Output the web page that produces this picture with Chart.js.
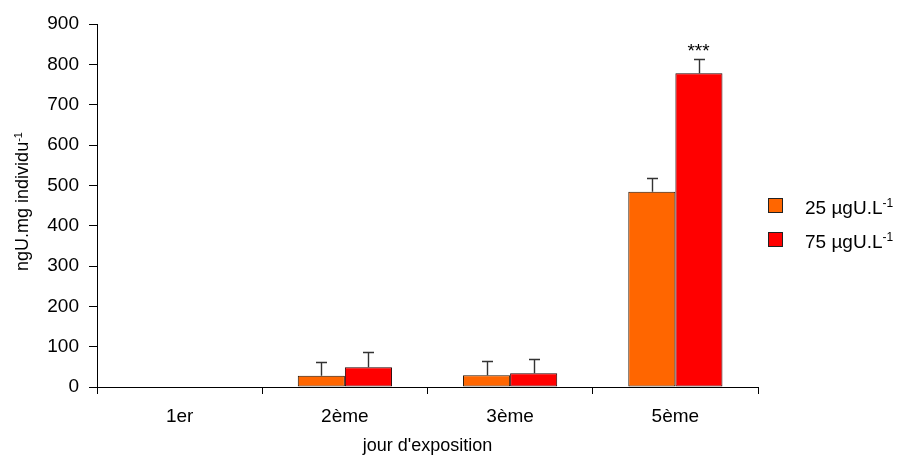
<!DOCTYPE html>
<html>
<head>
<meta charset="utf-8">
<script src="https://cdn.jsdelivr.net/npm/chart.js@4/dist/chart.umd.min.js"></script>
<style>
  html, body { margin: 0; padding: 0; background: #fff; }
  #wrap { width: 902px; height: 462px; position: relative; }
</style>
</head>
<body>
<div id="wrap"><canvas id="c"></canvas></div>
<script>
// Uranium content per individual, by exposure day and concentration
const days = ['1er', '2ème', '3ème', '5ème'];
const conc25 = [null, 28, 29, 484];
const conc25Err = [null, 35, 36, 35];
const conc75 = [null, 49, 34, 778];
const conc75Err = [null, 38, 36, 34];
const conc75Signif = [null, null, null, '***'];
const seriesNames = ['25 µgU.L', '75 µgU.L'];
const unitExponent = '-1';
const yTicks = [0, 100, 200, 300, 400, 500, 600, 700, 800, 900];

const FONT = '"Liberation Sans", Arial, sans-serif';
const colors = ['#FF6600', '#FF0000'];

// Error bars (upper side only) and significance marks
const errorBars = {
  id: 'errorBars',
  afterDatasetsDraw(chart) {
    const ctx = chart.ctx;
    const yScale = chart.scales.y;
    ctx.save();
    chart.data.datasets.forEach((ds, di) => {
      const meta = chart.getDatasetMeta(di);
      meta.data.forEach((bar, i) => {
        const v = ds.data[i];
        const e = ds.errors[i];
        if (v == null || e == null) return;
        const yTop = Math.round(yScale.getPixelForValue(v + e)) + 0.5;
        const x = Math.round(bar.x) + 0.5;
        ctx.strokeStyle = '#333';
        ctx.lineWidth = 1.4;
        ctx.beginPath();
        ctx.moveTo(x, bar.y);
        ctx.lineTo(x, yTop);
        ctx.moveTo(x - 5.5, yTop);
        ctx.lineTo(x + 5.5, yTop);
        ctx.stroke();
        const mark = ds.signif && ds.signif[i];
        if (mark) {
          ctx.fillStyle = '#000';
          ctx.font = '19px ' + FONT;
          ctx.textAlign = 'center';
          ctx.textBaseline = 'alphabetic';
          ctx.fillText(mark, x - 1, yTop - 3);
        }
      });
    });
    ctx.restore();
  }
};

// Text with a raised exponent
function supText(ctx, base, sup, x, y, size, align) {
  ctx.font = size + 'px ' + FONT;
  const wb = ctx.measureText(base).width;
  ctx.font = Math.round(size * 0.62) + 'px ' + FONT;
  const ws = ctx.measureText(sup).width;
  let x0 = x;
  if (align === 'center') x0 = x - (wb + ws) / 2;
  ctx.textAlign = 'left';
  ctx.textBaseline = 'alphabetic';
  ctx.font = size + 'px ' + FONT;
  ctx.fillText(base, x0, y);
  ctx.font = Math.round(size * 0.62) + 'px ' + FONT;
  ctx.fillText(sup, x0 + wb, y - size * 0.36);
}

// Y axis title and legend
const annotations = {
  id: 'annotations',
  afterDraw(chart) {
    const ctx = chart.ctx;
    const area = chart.chartArea;
    ctx.save();
    ctx.fillStyle = '#000';
    // vertical axis title
    ctx.save();
    ctx.translate(28, (area.top + area.bottom) / 2 - 4);
    ctx.rotate(-Math.PI / 2);
    supText(ctx, 'ngU.mg individu', unitExponent, 0, 0, 18, 'center');
    ctx.restore();
    // legend
    chart.data.datasets.forEach((ds, i) => {
      const cy = 206 + i * 34;
      ctx.fillStyle = ds.backgroundColor;
      ctx.fillRect(768.5, cy - 7.5, 14, 14);
      ctx.strokeStyle = '#222';
      ctx.lineWidth = 1;
      ctx.strokeRect(768.5, cy - 7.5, 14, 14);
      ctx.fillStyle = '#000';
      supText(ctx, ds.label, unitExponent, 805, cy + 8, 19, 'left');
    });
    ctx.restore();
  }
};

new Chart(document.getElementById('c'), {
  type: 'bar',
  data: {
    labels: days,
    datasets: [
      { label: seriesNames[0], data: conc25, errors: conc25Err,
        backgroundColor: colors[0], borderColor: '#2a1400', borderWidth: 1, borderSkipped: false },
      { label: seriesNames[1], data: conc75, errors: conc75Err, signif: conc75Signif,
        backgroundColor: colors[1], borderColor: '#2a0000', borderWidth: 1, borderSkipped: false }
    ]
  },
  options: {
    responsive: true,
    maintainAspectRatio: false,
    animation: false,
    datasets: { bar: { categoryPercentage: 0.57, barPercentage: 1.0 } },
    layout: { padding: { top: 24, right: 144, bottom: 0, left: 0 } },
    plugins: { legend: { display: false }, tooltip: { enabled: false } },
    scales: {
      x: {
        offset: true,
        grid: { display: true, offset: true, drawOnChartArea: false, drawTicks: true, tickLength: 7, color: '#000' },
        border: { display: true, color: '#000', width: 1 },
        ticks: { color: '#000', font: { family: FONT, size: 19 }, padding: 11, maxRotation: 0 },
        title: { display: true, text: "jour d'exposition", color: '#000',
                 font: { family: FONT, size: 18 }, padding: { top: 0, bottom: 5 } },
        afterFit(s) { s.height = 75; }
      },
      y: {
        min: 0, max: 900,
        afterBuildTicks(s) { s.ticks = yTicks.map(v => ({ value: v })); },
        grid: { display: true, drawOnChartArea: false, drawTicks: true, tickLength: 8, color: '#000' },
        border: { display: true, color: '#000', width: 1 },
        ticks: { color: '#000', font: { family: FONT, size: 19 }, padding: 10 },
        afterFit(s) { s.width = 97; }
      }
    }
  },
  plugins: [errorBars, annotations]
});
</script>
</body>
</html>
